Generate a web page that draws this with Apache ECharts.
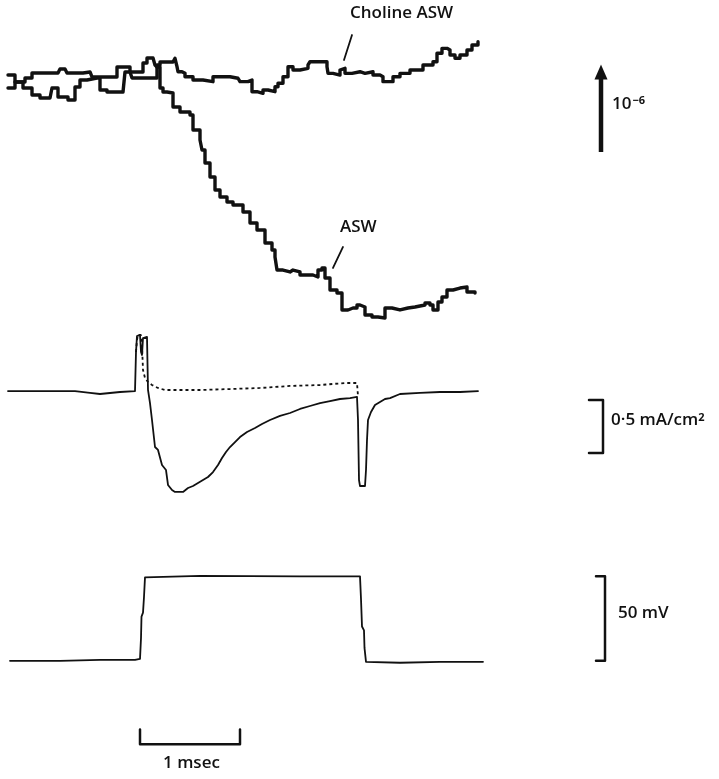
<!DOCTYPE html>
<html>
<head>
<meta charset="utf-8">
<script src="https://cdn.jsdelivr.net/npm/echarts@6/dist/echarts.min.js"></script>
<style>
  html, body { margin: 0; padding: 0; background: #fff; }
  #chart { width: 719px; height: 779px; }
</style>
</head>
<body>
<div id="chart"></div>
<script>
// time in msec (0 = start of the voltage step)

// light signal, units of 1e-6 (0 = resting level)
const cholineLight = [
  [-1.32, 0.082], [-1.25, 0], [-1.17, -0.071], [-1.08, -0.153], [-1.00, -0.188], [-0.90, -0.188],
  [-0.88, -0.071], [-0.85, -0.071], [-0.82, -0.176], [-0.72, -0.212], [-0.68, -0.212], [-0.65, -0.059],
  [-0.60, 0.024], [-0.53, 0.047], [-0.43, 0.047], [-0.40, -0.094], [-0.33, -0.118], [-0.17, -0.118],
  [-0.15, 0.118], [-0.10, 0.118], [-0.08, 0.047], [0.13, 0.047], [0.17, 0.200], [0.20, 0.235],
  [0.33, 0.239], [0.35, 0.279], [0.37, 0.180], [0.38, 0.121], [0.42, 0.102], [0.45, 0.062],
  [0.53, 0.024], [0.63, 0.004], [0.73, 0.062], [0.83, 0.062], [0.90, 0.044], [0.98, 0.024],
  [1.00, 0.004], [1.08, 0.024], [1.12, -0.114], [1.17, -0.133], [1.23, -0.094], [1.28, -0.114],
  [1.35, -0.055], [1.38, -0.015], [1.43, 0.062], [1.48, 0.180], [1.53, 0.141], [1.60, 0.161],
  [1.68, 0.200], [1.70, 0.239], [1.83, 0.239], [1.87, 0.180], [1.88, 0.102], [1.93, 0.082],
  [2.00, 0.141], [2.02, 0.161], [2.05, 0.102], [2.12, 0.121], [2.20, 0.102], [2.25, 0.121],
  [2.33, 0.082], [2.40, 0.062], [2.43, 0.004], [2.48, 0.004], [2.53, 0.062], [2.60, 0.102],
  [2.70, 0.141], [2.83, 0.200], [2.93, 0.239], [2.97, 0.338], [3.02, 0.396], [3.07, 0.376],
  [3.10, 0.318], [3.15, 0.279], [3.20, 0.318], [3.27, 0.376], [3.32, 0.435], [3.38, 0.474]
];
const aswLight = [
  [-1.32, -0.071], [-1.25, 0], [-1.15, 0.047], [-1.08, 0.106], [-0.82, 0.118], [-0.80, 0.153],
  [-0.75, 0.153], [-0.73, 0.106], [-0.60, 0.106], [-0.57, 0.118], [-0.50, 0.118], [-0.48, 0.059],
  [-0.30, 0.059], [-0.23, 0.176], [-0.13, 0.176], [-0.10, 0.118], [0.00, 0.118], [0.03, 0.224],
  [0.07, 0.282], [0.13, 0.282], [0.15, 0.200], [0.17, 0.176], [0.20, -0.071], [0.23, -0.118],
  [0.27, -0.129], [0.33, -0.294], [0.40, -0.353], [0.47, -0.353], [0.50, -0.388], [0.53, -0.565],
  [0.60, -0.682], [0.62, -0.800], [0.65, -0.953], [0.70, -1.118], [0.75, -1.271], [0.80, -1.353],
  [0.87, -1.412], [0.93, -1.447], [1.00, -1.447], [1.03, -1.529], [1.10, -1.659], [1.17, -1.741],
  [1.25, -1.894], [1.32, -1.976], [1.35, -2.059], [1.37, -2.212], [1.43, -2.235], [1.50, -2.212],
  [1.53, -2.235], [1.60, -2.271], [1.73, -2.294], [1.78, -2.212], [1.82, -2.188], [1.85, -2.306],
  [1.90, -2.447], [1.97, -2.482], [2.02, -2.682], [2.08, -2.659], [2.13, -2.659], [2.17, -2.624],
  [2.20, -2.647], [2.25, -2.741], [2.32, -2.765], [2.38, -2.776], [2.45, -2.659], [2.52, -2.682],
  [2.60, -2.659], [2.68, -2.647], [2.75, -2.624], [2.85, -2.600], [2.90, -2.624], [2.93, -2.682],
  [2.98, -2.588], [3.02, -2.529], [3.07, -2.447], [3.13, -2.424], [3.20, -2.412], [3.27, -2.471],
  [3.35, -2.482]
];

// membrane current, mA/cm2 (inward down)
const aswCurrent = [
  [-1.32, 0.009], [-1.00, 0.009], [-0.65, 0.009], [-0.50, -0.009], [-0.40, -0.019], [-0.20, 0],
  [-0.05, 0.009], [-0.04, 0.377], [-0.03, 0.528], [0.00, 0.538], [0.01, 0.377], [0.02, 0.349],
  [0.03, 0.509], [0.07, 0.519], [0.08, 0.019], [0.10, -0.104], [0.12, -0.264], [0.15, -0.519],
  [0.18, -0.547], [0.22, -0.689], [0.26, -0.736], [0.28, -0.877], [0.32, -0.925], [0.35, -0.943],
  [0.43, -0.943], [0.48, -0.906], [0.53, -0.887], [0.58, -0.858], [0.63, -0.830], [0.68, -0.802],
  [0.73, -0.755], [0.78, -0.689], [0.82, -0.623], [0.86, -0.566], [0.90, -0.519], [0.95, -0.472],
  [1.00, -0.425], [1.07, -0.377], [1.15, -0.340], [1.22, -0.302], [1.30, -0.264], [1.40, -0.226],
  [1.50, -0.198], [1.60, -0.160], [1.70, -0.132], [1.80, -0.104], [1.90, -0.085], [2.00, -0.066],
  [2.10, -0.057], [2.17, -0.047], [2.18, -0.264], [2.19, -0.830], [2.20, -0.887], [2.25, -0.887],
  [2.26, -0.736], [2.27, -0.453], [2.28, -0.264], [2.31, -0.189], [2.35, -0.123], [2.40, -0.094],
  [2.45, -0.066], [2.50, -0.057], [2.60, -0.019], [2.80, -0.009], [3.00, 0], [3.20, 0], [3.38, 0.009]
];
const cholineCurrent = [
  [-0.04, 0.377], [-0.03, 0.491], [-0.02, 0.538], [0.01, 0.538], [0.02, 0.443], [0.03, 0.208],
  [0.05, 0.132], [0.08, 0.094], [0.12, 0.066], [0.18, 0.038], [0.25, 0.019], [0.35, 0.019],
  [0.60, 0.019], [0.90, 0.028], [1.20, 0.038], [1.50, 0.057], [1.80, 0.066], [2.05, 0.085],
  [2.17, 0.085], [2.18, -0.038]
];

// membrane potential, mV relative to holding level
const voltage = [
  [-1.30, 0], [-0.80, 0], [-0.40, 0.58], [-0.05, 0.58], [0, 1.16], [0.01, 13.4], [0.015, 26.2],
  [0.03, 28.5], [0.04, 37.8], [0.05, 49.4], [0.06, 50.0], [0.60, 50.3], [1.60, 50.0], [2.20, 50.0],
  [2.21, 36.6], [2.22, 20.3], [2.24, 18.0], [2.245, 7.6], [2.26, -0.58], [2.60, -1.16],
  [3.00, -0.58], [3.43, -0.58]
];

// calibration bars
const lightBar = [[4.61, -0.824], [4.61, 0.10]];
const lightArrowHead = [[4.61, 0.118]];
const currentBar = [[4.49, -0.075], [4.63, -0.075], [4.63, -0.575], [4.49, -0.575]];
const voltageBar = [[4.56, 50], [4.65, 50], [4.65, 0], [4.56, 0]];
const timeBar = [[0, -40.7], [0, -49.4], [1, -49.4], [1, -40.7]];

// label pointers
const cholinePointer = [[2.12, 0.553], [2.04, 0.259]];
const aswPointer = [[2.03, -1.941], [1.93, -2.188]];

const ink = '#111';
const font = '600 17px "Open Sans", Lato, sans-serif';
const chart = echarts.init(document.getElementById('chart'));

function trace(data, idx, width, extra) {
  return Object.assign({
    type: 'line',
    data: data,
    xAxisIndex: idx,
    yAxisIndex: idx,
    showSymbol: false,
    symbol: 'none',
    silent: true,
    lineStyle: { color: ink, width: width, join: 'round', cap: 'round' }
  }, extra || {});
}

const xAx = i => ({ type: 'value', gridIndex: i, min: -1.4, max: 5.79, show: false });
const txt = (x, y, text) => ({
  type: 'text', left: x, top: y,
  style: { text: text, fill: ink, font: font }
});

chart.setOption({
  animation: false,
  backgroundColor: '#fff',
  grid: [
    { left: 0, width: 719, top: 5.5, height: 331.5 },
    { left: 0, width: 719, top: 328.4, height: 180.2 },
    { left: 0, width: 719, top: 542.6, height: 240.8 }
  ],
  xAxis: [xAx(0), xAx(1), xAx(2)],
  yAxis: [
    { type: 'value', gridIndex: 0, min: -3, max: 0.9, show: false },
    { type: 'value', gridIndex: 1, min: -1.1, max: 0.6, show: false },
    { type: 'value', gridIndex: 2, min: -70, max: 70, show: false }
  ],
  series: [
    trace(cholineLight, 0, 3.4, { step: 'end' }),
    trace(aswLight, 0, 3.4, { step: 'end' }),
    trace(lightBar, 0, 4.5, { lineStyle: { color: ink, width: 4.5 } }),
    {
      type: 'scatter', data: lightArrowHead, xAxisIndex: 0, yAxisIndex: 0, silent: true,
      symbol: 'triangle', symbolSize: [13, 15], itemStyle: { color: ink, opacity: 1 }
    },
    trace(cholinePointer, 0, 1.8),
    trace(aswPointer, 0, 1.8),
    trace(aswCurrent, 1, 1.8),
    trace(cholineCurrent, 1, 1.8, { lineStyle: { color: ink, width: 1.8, type: [3, 3] } }),
    trace(currentBar, 1, 2.5),
    trace(voltage, 2, 1.8),
    trace(voltageBar, 2, 2.5),
    trace(timeBar, 2, 2.5)
  ],
  graphic: [
    txt(350, 5, 'Choline ASW'),
    txt(340, 219, 'ASW'),
    {
      type: 'text', left: 612, top: 95,
      style: {
        text: '{b|10}{s|−6}', fill: ink,
        rich: {
          b: { font: font, fill: ink },
          s: { font: 'bold 11px "Open Sans", sans-serif', fill: ink, verticalAlign: 'top', padding: [0, 0, 8, 1] }
        }
      }
    },
    {
      type: 'text', left: 611, top: 412,
      style: {
        text: '0·5 mA/cm{s|2}', fill: ink, font: font,
        rich: { s: { font: 'bold 11px "Open Sans", sans-serif', fill: ink, padding: [0, 0, 6, 0] } }
      }
    },
    txt(618, 605, '50 mV'),
    txt(163, 755, '1 msec')
  ]
});
</script>
</body>
</html>
